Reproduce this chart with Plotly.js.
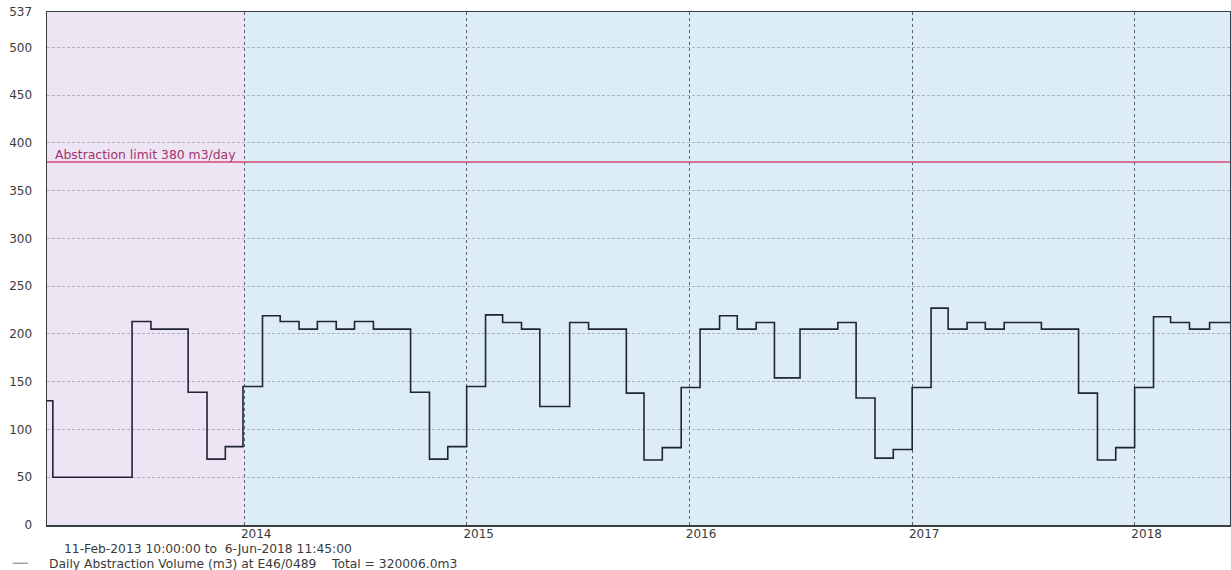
<!DOCTYPE html>
<html>
<head>
<meta charset="utf-8">
<script src="https://cdn.plot.ly/plotly-3.0.1.min.js"></script>
<style>
  html, body { margin: 0; padding: 0; background: #ffffff; }
  #chart { width: 1231px; height: 570px; }
</style>
</head>
<body>
<div id="chart"></div>
<script>
// Period covered by the record
const periodStart = '2013-02-11 10:00:00';
const periodEnd = '2018-06-06 11:45:00';

// Dates at which the daily abstraction rate changes (meter reading dates)
const stepDates = [
  '2013-02-11 10:00', '2013-02-21', '2013-07-01', '2013-08-01', '2013-10-01', '2013-11-01',
  '2013-12-01', '2013-12-30', '2014-01-31', '2014-03-01', '2014-04-01', '2014-05-01',
  '2014-06-01', '2014-07-01', '2014-08-01', '2014-10-01', '2014-11-01', '2014-12-01',
  '2015-01-01', '2015-02-01', '2015-03-01', '2015-04-01', '2015-05-01', '2015-06-19',
  '2015-07-20', '2015-09-20', '2015-10-19', '2015-11-18', '2015-12-19', '2016-01-19',
  '2016-02-20', '2016-03-20', '2016-04-20', '2016-05-20', '2016-07-01', '2016-09-01',
  '2016-10-01', '2016-11-01', '2016-12-01', '2017-01-01', '2017-02-01', '2017-03-01',
  '2017-04-01', '2017-05-01', '2017-06-01', '2017-08-01', '2017-10-01', '2017-11-01',
  '2017-12-01', '2018-01-01', '2018-02-01', '2018-03-01', '2018-04-01', '2018-05-04'
];

// Daily abstraction volume (m3/day) from each date onward
const dailyVolume = [
  130, 50, 213, 205, 139, 69,
  82, 145, 219, 213, 205, 213,
  205, 213, 205, 139, 69, 82,
  145, 220, 212, 205, 124, 212,
  205, 138, 68, 81, 144, 205,
  219, 205, 212, 154, 205, 212,
  133, 70, 79, 144, 227, 205,
  212, 205, 212, 205, 138, 68,
  81, 144, 218, 212, 205, 212
];

const abstractionLimit = 380;
const yMax = 537;
const yTicks = [0, 50, 100, 150, 200, 250, 300, 350, 400, 450, 500, 537];
const yearTicks = ['2014-01-01', '2015-01-01', '2016-01-01', '2017-01-01', '2018-01-01'];
const yearLabels = ['2014', '2015', '2016', '2017', '2018'];
const firstYearStart = '2014-01-01';

const seriesName = 'Daily Abstraction Volume (m3) at E46/0489';
const totalText = 'Total = 320006.0m3';

// carry the last rate through to the end of the period
const xs = stepDates.concat([periodEnd]);
const ys = dailyVolume.concat([dailyVolume[dailyVolume.length - 1]]);

const font = 'DejaVu Sans, Verdana, sans-serif';
const textColor = '#3a3a3a';

const trace = {
  type: 'scatter',
  mode: 'lines',
  x: xs,
  y: ys,
  name: seriesName,
  line: { shape: 'hv', color: '#1f2533', width: 1.6 },
  hoverinfo: 'x+y'
};

const layout = {
  width: 1231,
  height: 570,
  margin: { l: 47, r: 1, t: 12, b: 45, pad: 0 },
  paper_bgcolor: '#ffffff',
  plot_bgcolor: '#dcedf8',
  showlegend: false,
  font: { family: font, size: 11, color: textColor },
  xaxis: {
    type: 'date',
    range: [periodStart, periodEnd],
    tickvals: yearTicks,
    ticktext: yearLabels,
    ticks: '',
    ticklabelshift: 12,
    ticklabelstandoff: -3,
    showgrid: true,
    gridcolor: '#5a6068',
    griddash: 'dot',
    gridwidth: 1,
    showline: true,
    linecolor: '#3a3f46',
    linewidth: 1.5,
    mirror: true,
    zeroline: false,
    tickfont: { family: font, size: 12, color: textColor }
  },
  yaxis: {
    range: [0, yMax],
    tickvals: yTicks,
    ticktext: yTicks.map(String),
    ticks: 'outside',
    ticklen: 11,
    tickcolor: 'rgba(0,0,0,0)',
    showgrid: true,
    gridcolor: 'rgba(115,125,135,0.5)',
    griddash: '3px,2px',
    gridwidth: 1,
    showline: true,
    linecolor: '#3a3f46',
    linewidth: 1.5,
    mirror: true,
    zeroline: false,
    tickfont: { family: font, size: 12, color: textColor }
  },
  shapes: [
    // first partial year shaded
    {
      type: 'rect', layer: 'below',
      xref: 'x', yref: 'paper',
      x0: periodStart, x1: firstYearStart, y0: 0, y1: 1,
      fillcolor: '#eee5f4', line: { width: 0 }
    },
    // licence limit
    {
      type: 'line', layer: 'above',
      xref: 'paper', yref: 'y',
      x0: 0, x1: 1, y0: abstractionLimit, y1: abstractionLimit,
      line: { color: '#d8487a', width: 1.5 }
    },
    // legend line sample
    {
      type: 'line', xref: 'paper', yref: 'paper',
      x0: -0.029, x1: -0.016, y0: -0.0745, y1: -0.0745,
      line: { color: '#777777', width: 1 }
    }
  ],
  annotations: [
    {
      xref: 'paper', yref: 'y',
      x: 0.005, y: abstractionLimit,
      xanchor: 'left', yanchor: 'bottom',
      yshift: -2,
      text: 'Abstraction limit ' + abstractionLimit + ' m3/day',
      showarrow: false,
      font: { family: font, size: 12.4, color: '#a2336c' }
    },
    {
      xref: 'paper', yref: 'paper',
      x: 0.0125, y: -0.0465,
      xanchor: 'left', yanchor: 'middle',
      text: '11-Feb-2013 10:00:00 to  6-Jun-2018 11:45:00',
      showarrow: false,
      font: { family: font, size: 12.3, color: textColor }
    },
    {
      xref: 'paper', yref: 'paper',
      x: 0.0, y: -0.0755,
      xanchor: 'left', yanchor: 'middle',
      text: seriesName + '    ' + totalText,
      showarrow: false,
      font: { family: font, size: 12.3, color: textColor }
    }
  ]
};

Plotly.newPlot('chart', [trace], layout, { displayModeBar: false, staticPlot: true });
</script>
</body>
</html>
